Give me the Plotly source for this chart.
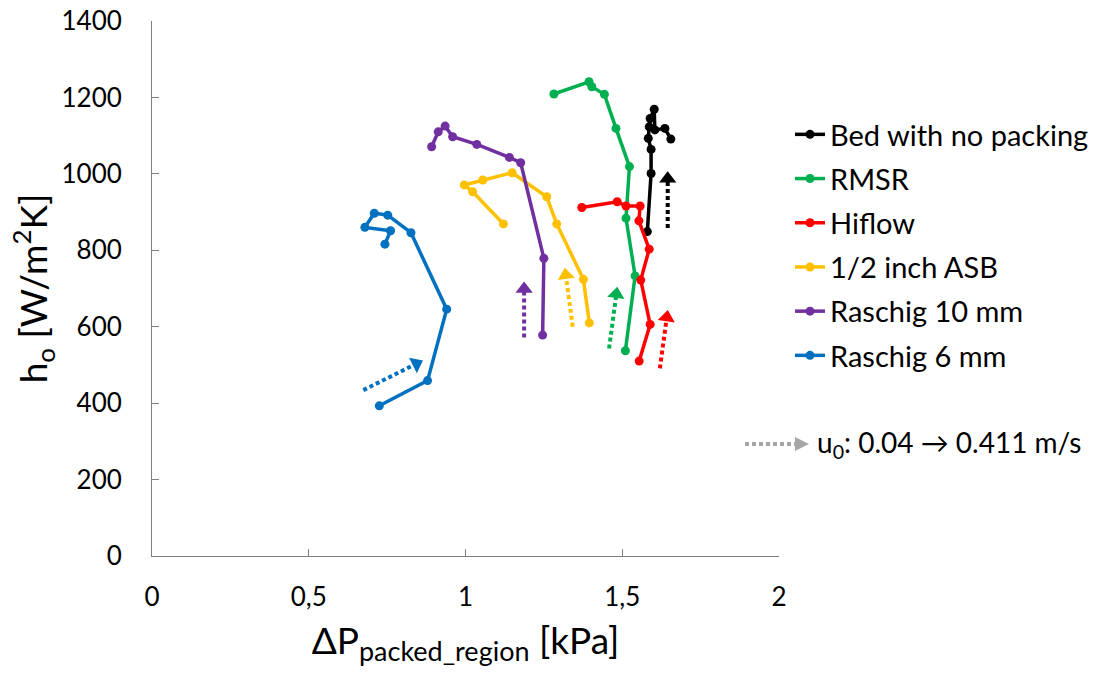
import plotly.graph_objects as go

# ---------------- data ----------------
series_names = ["Bed with no packing", "RMSR", "Hiflow", "1/2 inch ASB", "Raschig 10 mm", "Raschig 6 mm"]
series_colors = ["#000000", "#00B050", "#FF0000", "#FFC000", "#7030A0", "#0070C0"]

bed_x = [1.580, 1.592, 1.592, 1.583, 1.586, 1.589, 1.602, 1.604, 1.636, 1.655]
bed_y = [849, 1001, 1064, 1093, 1123, 1145, 1169, 1115, 1119, 1091]

rmsr_x = [1.510, 1.541, 1.512, 1.523, 1.480, 1.443, 1.403, 1.394, 1.282]
rmsr_y = [537, 733, 884, 1019, 1119, 1208, 1228, 1241, 1209]

hiflow_x = [1.554, 1.589, 1.559, 1.586, 1.553, 1.557, 1.512, 1.484, 1.371]
hiflow_y = [510, 606, 722, 803, 877, 916, 916, 927, 912]

asb_x = [1.395, 1.376, 1.291, 1.259, 1.149, 1.055, 0.996, 1.023, 1.121]
asb_y = [610, 724, 869, 940, 1003, 984, 971, 953, 869]

r10_x = [1.246, 1.250, 1.176, 1.140, 1.036, 0.959, 0.935, 0.913, 0.892]
r10_y = [578, 779, 1029, 1043, 1077, 1097, 1125, 1110, 1071]

r6_x = [0.725, 0.879, 0.940, 0.826, 0.752, 0.709, 0.679, 0.761, 0.743]
r6_y = [393, 459, 646, 846, 892, 897, 860, 851, 816]

series_x = [bed_x, rmsr_x, hiflow_x, asb_x, r10_x, r6_x]
series_y = [bed_y, rmsr_y, hiflow_y, asb_y, r10_y, r6_y]

# velocity-direction arrows (tail -> head), one per series
arrow_tail_x = [1.645, 1.458, 1.620, 1.342, 1.187, 0.674]
arrow_tail_y = [858, 543, 491, 600, 572, 434]
arrow_head_x = [1.645, 1.481, 1.642, 1.320, 1.187, 0.843]
arrow_head_y = [987, 685, 624, 735, 699, 503]

x_ticks = [0, 0.5, 1, 1.5, 2]
y_ticks = [0, 200, 400, 600, 800, 1000, 1200, 1400]

FONT = "Lato"

fig = go.Figure()

for i, (name, col) in enumerate(zip(series_names, series_colors)):
    fig.add_trace(go.Scatter(
        x=series_x[i], y=series_y[i], name=name, mode="lines+markers",
        line=dict(color=col, width=3.5), marker=dict(color=col, size=9),
        legendgroup=f"g{i}",
    ))

for i, col in enumerate(series_colors):
    fig.add_trace(go.Scatter(
        x=[arrow_tail_x[i], arrow_head_x[i]], y=[arrow_tail_y[i], arrow_head_y[i]],
        mode="lines+markers", showlegend=False, hoverinfo="skip",
        line=dict(color=col, width=4, dash="4px,3px"),
        marker=dict(color=col, size=[0, 15], symbol=["circle", "triangle-up"],
                    angleref="previous", opacity=1, line=dict(width=0)),
    ))

# plot-area geometry in pixels (for legend decoration)
L, R, T, B = 152, 779, 21, 556
def px(xp):
    return (xp - L) / (R - L)
def py(yp):
    return (B - yp) / (B - T)

grey = "#A6A6A6"
ay = 444
fig.add_shape(type="line", xref="paper", yref="paper",
              x0=px(745), x1=px(796), y0=py(ay), y1=py(ay),
              line=dict(color=grey, width=4, dash="4px,3px"))
fig.add_shape(type="path", xref="paper", yref="paper",
              path=f"M {px(795)},{py(ay-7)} L {px(809)},{py(ay)} L {px(795)},{py(ay+7)} Z",
              fillcolor=grey, line=dict(width=0))
fig.add_annotation(xref="paper", yref="paper", x=px(815), y=py(ay),
                   xanchor="left", yanchor="middle", showarrow=False,
                   text="u<sub>0</sub>: 0.04 → 0.411 m/s",
                   font=dict(family=FONT, size=28, color="#000000"))

fig.update_layout(
    width=1096, height=675,
    margin=dict(l=L, r=1096 - R, t=T, b=675 - B, autoexpand=False),
    paper_bgcolor="white", plot_bgcolor="white",
    separators=",.",
    font=dict(family=FONT, color="#000000"),
    showlegend=True,
    legend=dict(x=px(790), y=py(109), xanchor="left", yanchor="top",
                font=dict(family=FONT, size=29, color="#000000"),
                itemwidth=30, tracegroupgap=3.5, traceorder="grouped",
                bgcolor="rgba(0,0,0,0)"),
    xaxis=dict(range=[0, 2], tickvals=x_ticks, ticks="inside", ticklen=7,
               tickcolor="#7F7F7F", showline=True, linecolor="#7F7F7F", linewidth=1,
               showgrid=False, zeroline=False, tickfont=dict(family=FONT, size=26),
               ticklabelstandoff=18,
               title=dict(text="ΔP<sub><span style='font-size:27px'>packed_region</span></sub> [kPa]",
                          standoff=16, font=dict(family=FONT, size=37))),
    yaxis=dict(range=[0, 1400], tickvals=y_ticks, ticks="inside", ticklen=7,
               tickcolor="#7F7F7F", showline=True, linecolor="#7F7F7F", linewidth=1,
               showgrid=False, zeroline=False, tickfont=dict(family=FONT, size=26),
               ticklabelstandoff=24,
               title=dict(text="h<sub>o</sub> [W/m<sup>2</sup>K]", standoff=2,
                          font=dict(family=FONT, size=37))),
)

fig.write_html("out.html")
